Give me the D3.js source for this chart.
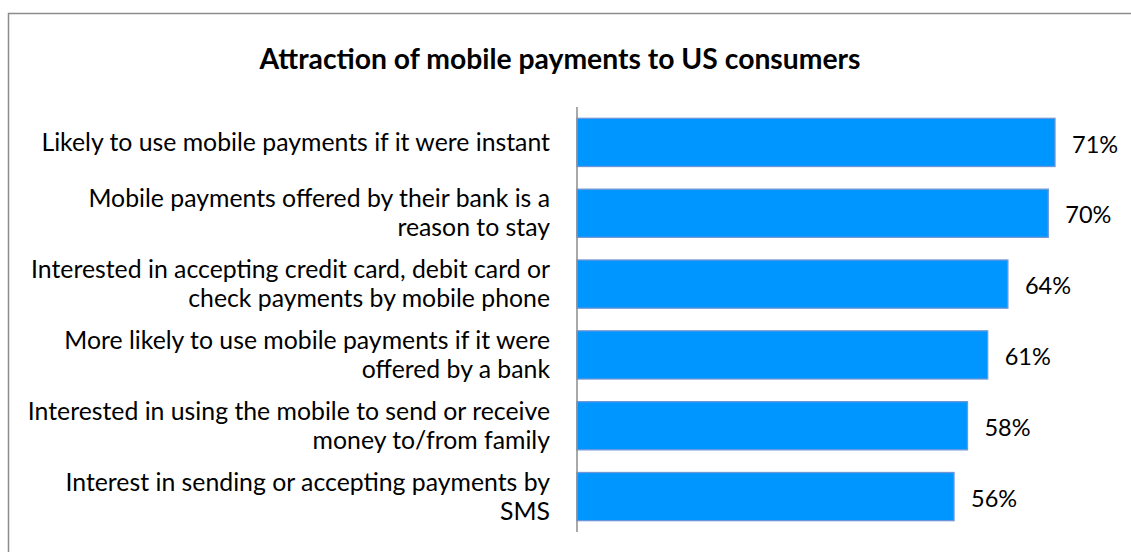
<!DOCTYPE html>
<html>
<head>
<meta charset="utf-8">
<script src="https://cdn.jsdelivr.net/npm/d3@7"></script>
<style>
  html, body { margin: 0; padding: 0; background: #fff; }
  svg { display: block; }
</style>
</head>
<body>
<svg id="chart" width="1131" height="552"></svg>
<script>
// Survey categories (each entry is a list of wrapped label lines)
const categories = [
  ["Likely to use mobile payments if it were instant"],
  ["Mobile payments offered by their bank is a", "reason to stay"],
  ["Interested in accepting credit card, debit card or", "check payments by mobile phone"],
  ["More likely to use mobile payments if it were", "offered by a bank"],
  ["Interested in using the mobile to send or receive", "money to/from family"],
  ["Interest in sending or accepting payments by", "SMS"]
];
// Share of respondents, in percent
const values = [71, 70, 64, 61, 58, 56];
const title = "Attraction of mobile payments to US consumers";

const svg = d3.select("#chart");
const W = 1131, H = 552;
const font = "Lato, 'Open Sans', sans-serif";

svg.append("rect").attr("width", W).attr("height", H).attr("fill", "#fff");

// Outer frame
svg.append("rect")
  .attr("x", 8.5).attr("y", 13.5)
  .attr("width", W + 20).attr("height", H + 20)
  .attr("fill", "none").attr("stroke", "#8c8c8c").attr("stroke-width", 1.5);

// Title
svg.append("text")
  .attr("x", 560).attr("y", 69)
  .attr("text-anchor", "middle")
  .attr("font-family", font).attr("font-weight", "bold").attr("font-size", 28.3)
  .attr("fill", "#000")
  .text(title);

const ids = d3.range(values.length);
const y = d3.scaleBand().domain(ids).range([107, 532]).paddingInner(0.32).paddingOuter(0.16);
const x = d3.scaleLinear().domain([0, 80]).range([577, 1115.6]);

// Bars
svg.append("g").selectAll("rect").data(ids).join("rect")
  .attr("x", x(0))
  .attr("y", i => y(i))
  .attr("width", i => x(values[i]) - x(0))
  .attr("height", y.bandwidth())
  .attr("fill", "#0096ff")
  .attr("stroke", "#6f96d8")
  .attr("stroke-width", 1.3);

// Vertical category axis line
svg.append("line")
  .attr("x1", x(0)).attr("x2", x(0))
  .attr("y1", 107).attr("y2", 532)
  .attr("stroke", "#8c8c8c").attr("stroke-width", 1.5);

// Category labels, right-aligned and vertically centred on each bar
const lineH = 29;
const lab = svg.append("g").selectAll("text").data(ids).join("text")
  .attr("text-anchor", "end")
  .attr("font-family", font).attr("font-size", 24.8)
  .attr("fill", "#000");
lab.each(function(i) {
  const lines = categories[i];
  const cy = y(i) + y.bandwidth() / 2;
  const top = cy - (lines.length - 1) * lineH / 2;
  d3.select(this).selectAll("tspan").data(lines).join("tspan")
    .attr("x", 550)
    .attr("y", (d, k) => top + k * lineH)
    .attr("dy", "0.35em")
    .text(d => d);
});

// Value labels
svg.append("g").selectAll("text").data(ids).join("text")
  .attr("x", i => x(values[i]) + 17)
  .attr("y", i => y(i) + y.bandwidth() / 2 + 2)
  .attr("dy", "0.35em")
  .attr("font-family", font).attr("font-size", 23.5)
  .attr("fill", "#000")
  .text(i => values[i] + "%");
</script>
</body>
</html>
